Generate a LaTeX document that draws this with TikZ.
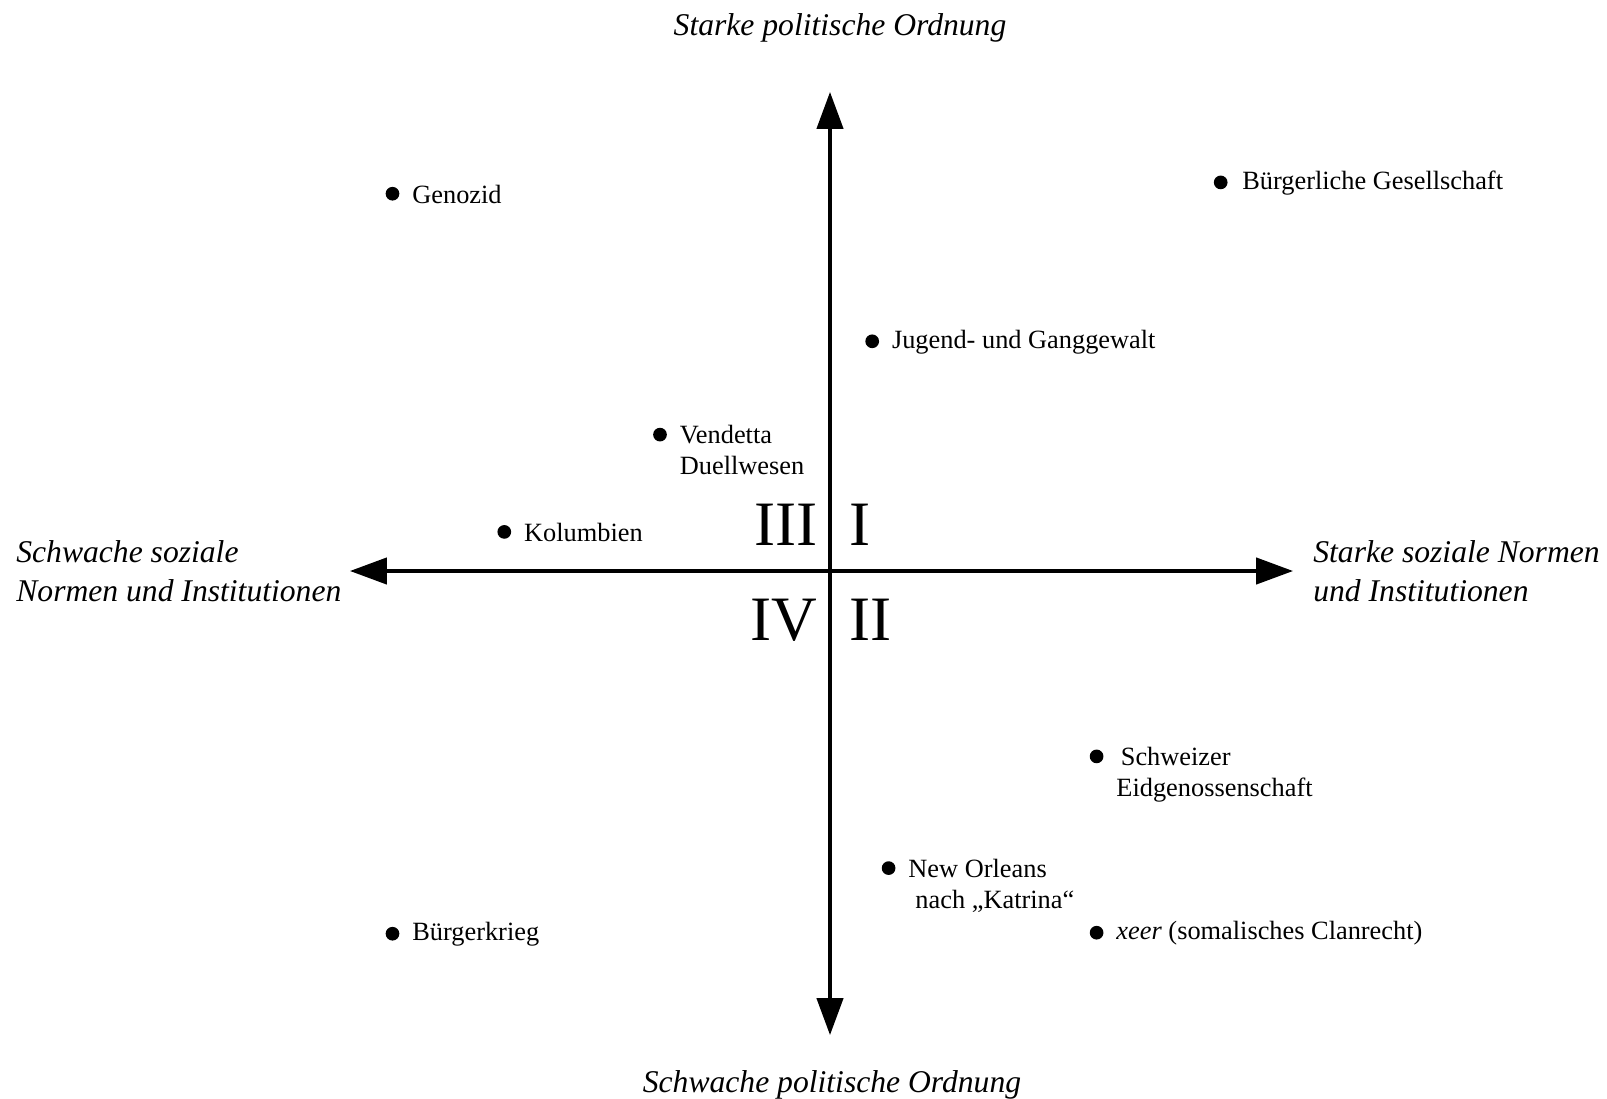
\documentclass[tikz,border=0pt]{standalone}
\usepackage{fontspec}
\setmainfont{Liberation Serif}
\usetikzlibrary{arrows.meta,positioning}
\tikzstyle{point}=[circle,fill=black,minimum size=7.8pt,inner sep=0pt]
\tikzstyle{case}=[inner sep=0pt,align=left,yshift=-0.5pt,font=\fontsize{15}{17.6}\selectfont]
\tikzstyle{axislabel}=[inner sep=0pt,align=left,font=\fontsize{18}{22}\selectfont\itshape]
\tikzstyle{quadrant}=[inner sep=0pt,font=\fontsize{36}{40}\selectfont]
\tikzstyle{axis}=[line width=1.8pt,>={Triangle[length=21pt,width=15pt]},<->]

\begin{document}
\begin{tikzpicture}[x=0.02cm,y=-0.02cm]
\useasboundingbox (0, 0) rectangle (1607, 1099);
\coordinate (n) at (830, 92);
\coordinate (s) at (830, 1035);
\coordinate (w) at (350, 571);
\coordinate (e) at (1293, 571);
\draw[axis] (s) -- (n);
\draw[axis] (w) -- (e);

\node[axislabel] at (840, 28) (ntext) {Starke politische Ordnung};
\node[axislabel] at (832, 1085) (stext) {Schwache politische Ordnung};
\node[axislabel, anchor = west] at (16, 571) (wtext) {Schwache soziale\\Normen und Institutionen};
\node[axislabel, anchor = west] at (1313, 571) (etext) {Starke soziale Normen\\und Institutionen};

\node[quadrant, anchor = east] at (818, 525) (q3) {III};
\node[quadrant, anchor = west] at (849, 525) (q1) {I};
\node[quadrant, anchor = east] at (818, 620) (q4) {IV};
\node[quadrant, anchor = west] at (849, 620) (q2) {II};

\node[point] at (392.5, 193.7) (genozid) {};
\node[point] at (1220.7, 182.4) (gesellschaft) {};
\node[point] at (872.2, 341.3) (jugend) {};
\node[point] at (660, 434.6) (vendetta) {};
\node[point] at (504.3, 531.9) (kolumbien) {};
\node[point] at (1096.6, 756.4) (schweiz) {};
\node[point] at (888.6, 868.1) (orleans) {};
\node[point] at (1096.6, 932.7) (xeer) {};
\node[point] at (392.5, 933.7) (krieg) {};

\node[case, right = 7pt of genozid] (genozidtext) {Genozid};
\node[case, right = 8pt of gesellschaft] (gesellschafttext) {Bürgerliche Gesellschaft};
\node[case, right = 7pt of jugend] (jugendtext) {Jugend- und Ganggewalt};
\node[case, right = 7pt of vendetta, anchor = north west, yshift = 6pt] (vendettatext) {Vendetta\\Duellwesen};
\node[case, right = 7pt of kolumbien] (kolumbientext) {Kolumbien};
\node[case, right = 7pt of schweiz, anchor = north west, yshift = 6pt] (schweiztext) {\hspace{2.5pt}Schweizer\\Eidgenossenschaft};
\node[case, right = 7pt of orleans, anchor = north west, yshift = 6pt] (orleanstext) {New Orleans\\\hspace{4pt}nach „Katrina“};
\node[case, right = 7pt of xeer] (xeertext) {\textit{xeer} (somalisches Clanrecht)};
\node[case, right = 7pt of krieg] (kriegtext) {Bürgerkrieg};

\end{tikzpicture}
\end{document}
